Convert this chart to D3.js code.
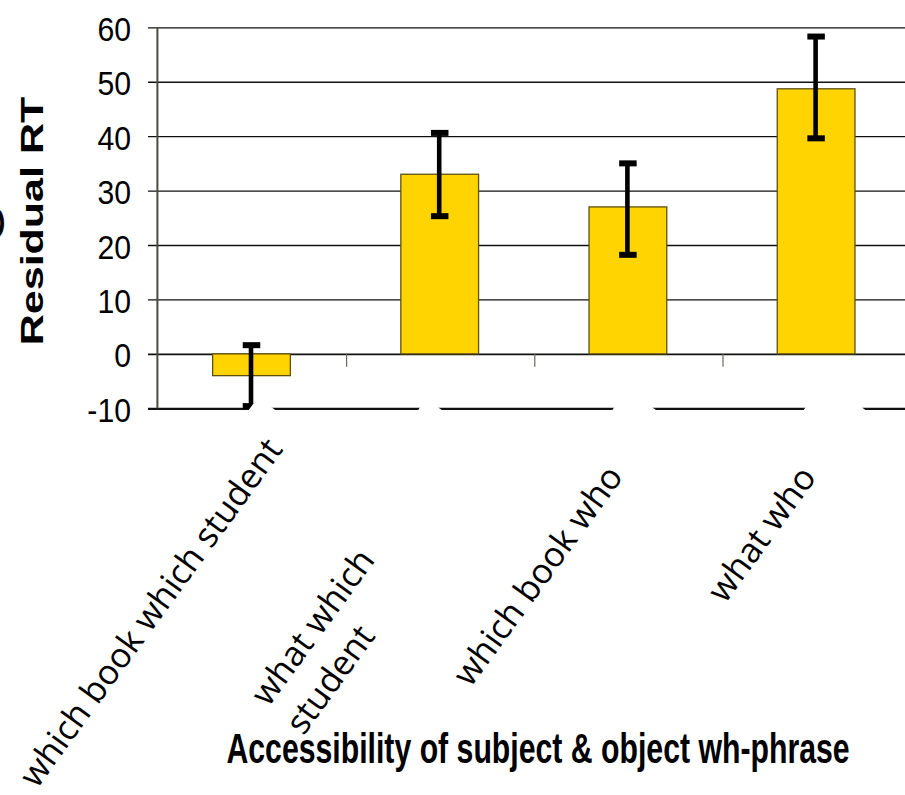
<!DOCTYPE html>
<html>
<head>
<meta charset="utf-8">
<script src="https://cdn.jsdelivr.net/npm/d3@7"></script>
<style>
  html, body { margin: 0; padding: 0; background: #ffffff; }
  svg { display: block; }
</style>
</head>
<body>
<script>
// Mean residual reading times by wh-phrase condition, with error bars
const categories = ["which book which student", "what which student", "which book who", "what who"];
const categoryLines = [["which book which student"], ["what which", "student"], ["which book who"], ["what who"]];
const residualRT = [-4, 33, 27, 48.7];
const errorUpper = [1.6, 40.6, 35.0, 58.3];
const errorLower = [-9.6, 25.3, 18.2, 39.6];
const yTickValues = [-10, 0, 10, 20, 30, 40, 50, 60];

const W = 905, H = 795;
const svg = d3.select("body").append("svg").attr("width", W).attr("height", H);
svg.append("rect").attr("width", W).attr("height", H).attr("fill", "#fff");

const axisX = 157.4;
const y = d3.scaleLinear().domain([-10, 60]).range([408.3, 27.3]);
const x = d3.scaleBand().domain(categories).range([axisX, 910.2]).padding(0);
const barW = x.bandwidth() * 0.413;
const cx = d => x(d) + x.bandwidth() / 2;
const labelAngle = 54; // degrees, category labels slant up to the right
const rad = labelAngle * Math.PI / 180;

// horizontal gridlines (ticks stick out left of the axis)
const gridLeft = 148;
const grid = svg.append("g").attr("transform", `translate(${gridLeft},0)`)
  .call(d3.axisLeft(y).tickValues(yTickValues).tickSize(-(W - gridLeft)).tickFormat(""));
grid.select(".domain").remove();
grid.selectAll(".tick line")
  .attr("stroke", "#111")
  .attr("stroke-width", d => d === -10 ? 2.2 : (d === 0 ? 1.6 : 1.3));

// y tick labels, narrow Arial-like
svg.append("g").selectAll("text").data(yTickValues).join("text")
  .attr("transform", d => `translate(131,${y(d) + 13.6}) scale(0.93,1)`)
  .attr("text-anchor", "end")
  .attr("font-family", "'Liberation Sans', Arial, sans-serif")
  .attr("font-size", 32.5)
  .attr("fill", "#000")
  .text(d => d);

// vertical axis
svg.append("line")
  .attr("x1", axisX).attr("x2", axisX)
  .attr("y1", y(60)).attr("y2", y(-10))
  .attr("stroke", "#4a4a40").attr("stroke-width", 2);

// bars
svg.append("g").selectAll("rect").data(categories).join("rect")
  .attr("x", d => cx(d) - barW / 2)
  .attr("width", barW)
  .attr("y", (d, i) => Math.min(y(residualRT[i]), y(0)))
  .attr("height", (d, i) => Math.abs(y(residualRT[i]) - y(0)))
  .attr("fill", "#FFD400")
  .attr("stroke", "#5e5010")
  .attr("stroke-width", 1.3);

// category separators hanging from the zero line
svg.append("g").selectAll("line").data(categories.slice(1)).join("line")
  .attr("x1", d => x(d) + 1).attr("x2", d => x(d) + 1)
  .attr("y1", y(0)).attr("y2", y(0) + 13)
  .attr("stroke", "#6a6a60").attr("stroke-width", 1.2);

// error bars
const capW = 17.5, capH = 6;
const eb = svg.append("g").selectAll("g").data(categories).join("g");
eb.append("line")
  .attr("x1", d => cx(d) - 0.5)
  .attr("x2", d => cx(d) - 0.5)
  .attr("y1", (d, i) => y(errorUpper[i]))
  .attr("y2", (d, i) => y(errorLower[i]))
  .attr("stroke", "#000").attr("stroke-width", 4.6);
eb.append("rect")
  .attr("x", d => cx(d) - capW / 2)
  .attr("y", (d, i) => y(errorUpper[i]) - capH / 2)
  .attr("width", capW).attr("height", capH).attr("fill", "#000");
eb.append("rect")
  .attr("x", d => cx(d) - capW / 2)
  .attr("y", (d, i) => y(errorLower[i]) - capH / 2)
  .attr("width", capW).attr("height", capH).attr("fill", "#000");

// white top corners of the slanted label boxes, poking up through the bottom line
const boxCorner = [{dx: 6.4, depth: 10.9}, {dx: -13.4, depth: 9.5}, {dx: -0.5, depth: 19}, {dx: 8.9, depth: 27.6}];
const leftSlope = 1 / Math.tan(rad), rightSlope = Math.tan(rad);
svg.append("g").selectAll("path").data(categories).join("path")
  .attr("d", (d, i) => {
    const px = cx(d) + boxCorner[i].dx;
    const top = y(-10) - boxCorner[i].depth;
    const bot = y(-10) + 6;
    const h = bot - top;
    return `M${px},${top} L${px + h * rightSlope},${bot} L${px - h * leftSlope},${bot} Z`;
  })
  .attr("fill", "#fff");

// slanted category labels, placed by their centres
const labelPlace = [
  {dx: -101.5, y: 612},
  {dx: -127.8, y: 626.5},
  {dx: -90.8, y: 575},
  {dx: -55.2, y: 533.5}
];
const catLabels = svg.append("g").selectAll("text").data(categories).join("text")
  .attr("transform", (d, i) => {
    const p = labelPlace[i];
    return `translate(${cx(d) + p.dx},${p.y}) rotate(${-labelAngle})`;
  })
  .attr("text-anchor", "middle")
  .attr("font-family", "'Open Sans', 'Noto Sans', sans-serif")
  .attr("font-size", 34.5)
  .attr("fill", "#000");
catLabels.selectAll("tspan").data((d, i) => categoryLines[i]).join("tspan")
  .attr("x", (d, j) => j === 0 ? 0 : -32)
  .attr("dy", (d, j) => j === 0 ? "0.37em" : 45)
  .text(d => d);

// axis titles
svg.append("text")
  .attr("transform", "translate(538,763) scale(0.72,1)")
  .attr("text-anchor", "middle")
  .attr("font-family", "'Liberation Sans', Arial, sans-serif")
  .attr("font-weight", "bold")
  .attr("font-size", 42)
  .attr("fill", "#000")
  .text("Accessibility of subject & object wh-phrase");

svg.append("text")
  .attr("transform", "translate(43.3,221) scale(0.73,1) rotate(-90)")
  .attr("text-anchor", "middle")
  .attr("font-family", "'Liberation Sans', Arial, sans-serif")
  .attr("font-weight", "bold")
  .attr("font-size", 43)
  .attr("fill", "#000")
  .text("Residual RT");

// edge of a further rotated glyph, mostly off the left border
svg.append("text")
  .attr("transform", "translate(3.6,223) scale(0.73,1) rotate(-90)")
  .attr("text-anchor", "middle")
  .attr("font-family", "'Liberation Sans', Arial, sans-serif")
  .attr("font-weight", "bold")
  .attr("font-size", 46)
  .attr("fill", "#000")
  .text("O");
</script>
</body>
</html>
